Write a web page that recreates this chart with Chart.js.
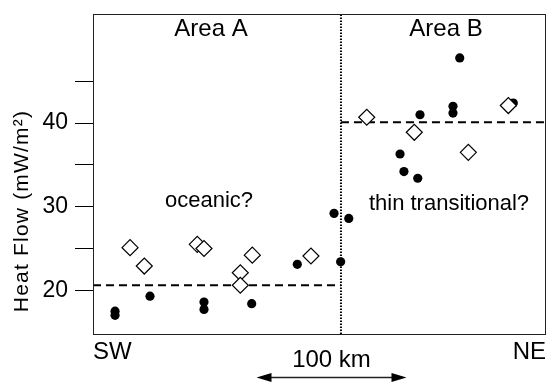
<!DOCTYPE html>
<html>
<head>
<meta charset="utf-8">
<script src="https://cdn.jsdelivr.net/npm/chart.js@4.4.1/dist/chart.umd.min.js"></script>
<style>
  html, body { margin: 0; padding: 0; background: #fff; }
  #wrap { width: 548px; height: 383px; }
</style>
</head>
<body>
<div id="wrap"><canvas id="heat"></canvas></div>
<script>
// distance along profile in km (SW -> NE), heat flow in mW/m2
const circleX = [14.7, 14.7, 38, 74, 74, 105.8, 136.2, 160.7, 165.1, 170.5, 204.7, 207.3, 216.5, 218, 240, 240, 244.5, 280.2];
const circleY = [17.5, 17.0, 19.3, 18.6, 17.7, 18.4, 23.1, 29.2, 23.4, 28.6, 36.3, 34.2, 33.4, 41.0, 42.0, 41.2, 47.8, 42.4];
const diamondX = [24.7, 34.2, 69.5, 74, 98.2, 98.2, 106.2, 145.3, 182.5, 214.2, 250.2, 276.9];
const diamondY = [25.1, 22.9, 25.5, 25.0, 22.1, 20.6, 24.2, 24.1, 40.7, 38.9, 36.5, 42.1];
const boundaryKm = 165.3;
const meanA = 20.6;
const meanB = 40.1;
const yTicks = [20, 25, 30, 35, 40, 45];
const scaleBar = [109, 209]; // 100 km arrow

const xMin = 0, xMax = 302;
const yMin = 14.77, yMax = 53.05;

const toPts = (xs, ys) => xs.map((x, i) => ({ x: x, y: ys[i] }));

// no extra padding from the axes, chart area comes from layout only
const noPad = (scale) => {
    scale.paddingTop = 0;
    scale.paddingBottom = 0;
    scale.paddingLeft = 0;
    scale.paddingRight = 0;
};

const textPlugin = {
    id: 'texts',
    afterDraw(chart) {
        const ctx = chart.ctx;
        const a = chart.chartArea;
        const xs = chart.scales.x;
        ctx.save();
        // frame
        ctx.strokeStyle = '#222';
        ctx.lineWidth = 1;
        ctx.strokeRect(a.left + 0.5, a.top + 0.5, a.right - a.left - 1, a.bottom - a.top);

        ctx.fillStyle = '#000';
        ctx.textBaseline = 'alphabetic';
        ctx.textAlign = 'center';
        ctx.font = '24px "Liberation Sans", Arial, sans-serif';
        ctx.fillText('Area A', 211, 36);
        ctx.fillText('Area B', 446, 36);
        ctx.font = '22px "Liberation Sans", Arial, sans-serif';
        ctx.fillText('oceanic?', 209, 207);
        ctx.fillText('thin transitional?', 449, 210);

        // scale bar
        const x1 = xs.getPixelForValue(scaleBar[0]);
        const x2 = xs.getPixelForValue(scaleBar[1]);
        ctx.font = '24px "Liberation Sans", Arial, sans-serif';
        ctx.fillText('100 km', (x1 + x2) / 2, 367);
        const ay = 377.5;
        ctx.lineWidth = 1.5;
        ctx.beginPath();
        ctx.moveTo(x1 + 10, ay);
        ctx.lineTo(x2 - 10, ay);
        ctx.stroke();
        ctx.beginPath();
        ctx.moveTo(x1, ay);
        ctx.lineTo(x1 + 15, ay - 4.5);
        ctx.lineTo(x1 + 15, ay + 4.5);
        ctx.closePath();
        ctx.moveTo(x2, ay);
        ctx.lineTo(x2 - 15, ay - 4.5);
        ctx.lineTo(x2 - 15, ay + 4.5);
        ctx.closePath();
        ctx.fill();

        // y axis title
        ctx.translate(22, 211);
        ctx.rotate(-Math.PI / 2);
        ctx.textBaseline = 'middle';
        ctx.font = '21px "Liberation Sans", Arial, sans-serif';
        ctx.letterSpacing = '1.2px';
        ctx.fillText('Heat Flow (mW/m²)', 0, 0);
        ctx.restore();
    }
};

const config = {
    type: 'scatter',
    data: {
        datasets: [
            {
                label: 'diamonds',
                data: toPts(diamondX, diamondY),
                pointStyle: 'rectRot',
                pointRadius: 8,
                backgroundColor: '#fff',
                borderColor: '#000',
                borderWidth: 1.2,
                order: 0
            },
            {
                label: 'circles',
                data: toPts(circleX, circleY),
                pointStyle: 'circle',
                pointRadius: 4.6,
                backgroundColor: '#000',
                borderColor: '#000',
                borderWidth: 0,
                order: 1
            },
            {
                type: 'line',
                label: 'mean A',
                data: [{ x: xMin, y: meanA }, { x: boundaryKm, y: meanA }],
                borderColor: '#000',
                borderWidth: 2,
                borderDash: [8, 5],
                pointRadius: 0,
                order: 2
            },
            {
                type: 'line',
                label: 'mean B',
                data: [{ x: boundaryKm, y: meanB }, { x: xMax, y: meanB }],
                borderColor: '#000',
                borderWidth: 2,
                borderDash: [8, 5],
                pointRadius: 0,
                order: 2
            },
            {
                type: 'line',
                label: 'boundary',
                data: [{ x: boundaryKm, y: yMin }, { x: boundaryKm, y: yMax }],
                borderColor: '#000',
                borderWidth: 2,
                borderDash: [1.5, 1.5],
                pointRadius: 0,
                order: 2
            }
        ]
    },
    options: {
        responsive: false,
        animation: false,
        layout: { autoPadding: false, padding: { top: 14, right: 2, left: 0, bottom: 0 } },
        plugins: {
            legend: { display: false },
            tooltip: { enabled: false }
        },
        scales: {
            x: {
                type: 'linear',
                min: xMin,
                max: xMax,
                afterBuildTicks: (scale) => { scale.ticks = [{ value: xMin }, { value: xMax }]; },
                afterFit: (scale) => { scale.height = 49; noPad(scale); },
                grid: { display: false, drawTicks: false },
                border: { display: false },
                ticks: {
                    align: 'inner',
                    padding: 4,
                    color: '#000',
                    font: { family: '"Liberation Sans", Arial, sans-serif', size: 24 },
                    callback: (v) => v === xMin ? 'SW' : 'NE'
                }
            },
            y: {
                type: 'linear',
                min: yMin,
                max: yMax,
                afterBuildTicks: (scale) => { scale.ticks = yTicks.map(v => ({ value: v })); },
                afterFit: (scale) => { scale.width = 93; noPad(scale); },
                grid: { drawOnChartArea: false, drawTicks: true, tickLength: 18, color: '#000', lineWidth: 1 },
                border: { display: false },
                ticks: {
                    padding: 7,
                    color: '#000',
                    font: { family: '"Liberation Sans", Arial, sans-serif', size: 23 },
                    callback: (v) => v % 10 === 0 ? String(v) : ''
                }
            }
        }
    },
    plugins: [textPlugin]
};

const canvas = document.getElementById('heat');
canvas.width = 548;
canvas.height = 383;
window.heatChart = new Chart(canvas, config);
</script>
</body>
</html>
